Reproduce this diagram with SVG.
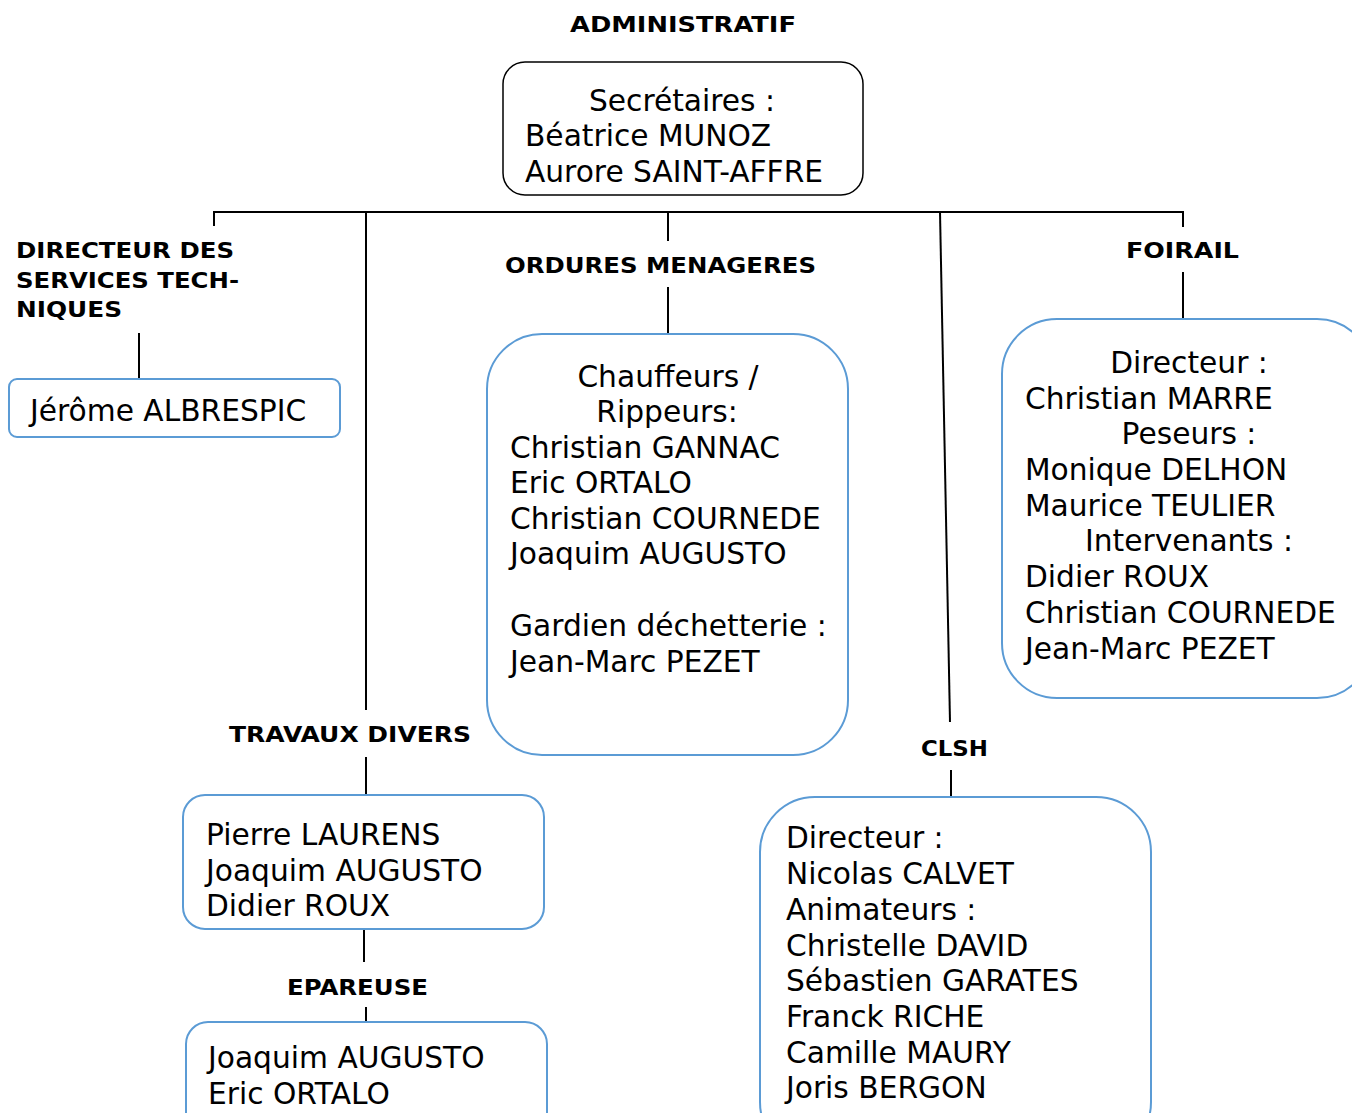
<svg xmlns="http://www.w3.org/2000/svg" width="1352" height="1113" viewBox="0 0 1352 1113">
<style>
.t{font-family:"DejaVu Sans",Verdana,sans-serif;font-size:29.7px;fill:#000}
.c{text-anchor:middle}
.h{font-family:"DejaVu Sans",Verdana,sans-serif;font-size:22px;font-weight:bold;fill:#000}
.bx{fill:#fff;stroke:#5B9BD5;stroke-width:2}
.bk{fill:#fff;stroke:#000;stroke-width:1.5}
.ln{stroke:#000;stroke-width:2;fill:none}
</style>
<rect width="1352" height="1113" fill="#fff"/>
<g id="connectors">
<path class="ln" d="M214 226V212H1183V227"/>
<path class="ln" d="M366 212V710"/>
<path class="ln" d="M668 212V241"/>
<path class="ln" d="M940 212L950 722"/>
<path class="ln" d="M139 333V378"/>
<path class="ln" d="M668 287V333"/>
<path class="ln" d="M1183 272V318"/>
<path class="ln" d="M366 757V795"/>
<path class="ln" d="M364 929V962"/>
<path class="ln" d="M366 1007V1022"/>
<path class="ln" d="M951 770V810"/>
</g>
<g id="label-admin"><text class="h" x="570" y="32" textLength="226" lengthAdjust="spacingAndGlyphs">ADMINISTRATIF</text></g>
<g id="node-admin">
<rect class="bk" x="503" y="62" width="360" height="133" rx="22"/>
<text class="t c" x="682" y="111">Secrétaires :</text>
<text class="t" x="525" y="146">Béatrice MUNOZ</text>
<text class="t" x="525" y="182">Aurore SAINT-AFFRE</text>
</g>
<g id="label-dst">
<text class="h" x="16" y="258" textLength="218" lengthAdjust="spacingAndGlyphs">DIRECTEUR DES</text>
<text class="h" x="16" y="288" textLength="223" lengthAdjust="spacingAndGlyphs">SERVICES TECH-</text>
<text class="h" x="16" y="317" textLength="106" lengthAdjust="spacingAndGlyphs">NIQUES</text>
</g>
<g id="node-dst">
<rect class="bx" x="9" y="379" width="331" height="58" rx="8"/>
<text class="t" x="30" y="421">Jérôme ALBRESPIC</text>
</g>
<g id="label-om"><text class="h" x="505" y="273" textLength="311" lengthAdjust="spacingAndGlyphs">ORDURES MENAGERES</text></g>
<g id="node-om">
<rect class="bx" x="487" y="334" width="361" height="421" rx="55"/>
<text class="t c" x="668" y="387">Chauffeurs /</text>
<text class="t c" x="667" y="422">Rippeurs:</text>
<text class="t" x="510" y="458">Christian GANNAC</text>
<text class="t" x="510" y="493">Eric ORTALO</text>
<text class="t" x="510" y="529">Christian COURNEDE</text>
<text class="t" x="510" y="564">Joaquim AUGUSTO</text>
<text class="t" x="510" y="636">Gardien déchetterie :</text>
<text class="t" x="510" y="672">Jean-Marc PEZET</text>
</g>
<g id="label-foirail"><text class="h" x="1126" y="258" textLength="113" lengthAdjust="spacingAndGlyphs">FOIRAIL</text></g>
<g id="node-foirail">
<rect class="bx" x="1002" y="319" width="370" height="379" rx="55"/>
<text class="t c" x="1189" y="373">Directeur :</text>
<text class="t" x="1025" y="409">Christian MARRE</text>
<text class="t c" x="1189" y="444">Peseurs :</text>
<text class="t" x="1025" y="480">Monique DELHON</text>
<text class="t" x="1025" y="516">Maurice TEULIER</text>
<text class="t c" x="1189" y="551">Intervenants :</text>
<text class="t" x="1025" y="587">Didier ROUX</text>
<text class="t" x="1025" y="623">Christian COURNEDE</text>
<text class="t" x="1025" y="659">Jean-Marc PEZET</text>
</g>
<g id="label-travaux"><text class="h" x="229" y="742" textLength="242" lengthAdjust="spacingAndGlyphs">TRAVAUX DIVERS</text></g>
<g id="node-travaux">
<rect class="bx" x="183" y="795" width="361" height="134" rx="22"/>
<text class="t" x="206" y="845">Pierre LAURENS</text>
<text class="t" x="206" y="881">Joaquim AUGUSTO</text>
<text class="t" x="206" y="916">Didier ROUX</text>
</g>
<g id="label-epareuse"><text class="h" x="287" y="995" textLength="141" lengthAdjust="spacingAndGlyphs">EPAREUSE</text></g>
<g id="node-epareuse">
<rect class="bx" x="186" y="1022" width="361" height="120" rx="22"/>
<text class="t" x="208" y="1068">Joaquim AUGUSTO</text>
<text class="t" x="208" y="1104">Eric ORTALO</text>
</g>
<g id="label-clsh"><text class="h" x="921" y="756" textLength="67" lengthAdjust="spacingAndGlyphs">CLSH</text></g>
<g id="node-clsh">
<rect class="bx" x="760" y="797" width="391" height="360" rx="55"/>
<text class="t" x="786" y="848">Directeur :</text>
<text class="t" x="786" y="884">Nicolas CALVET</text>
<text class="t" x="786" y="920">Animateurs :</text>
<text class="t" x="786" y="956">Christelle DAVID</text>
<text class="t" x="786" y="991">Sébastien GARATES</text>
<text class="t" x="786" y="1027">Franck RICHE</text>
<text class="t" x="786" y="1063">Camille MAURY</text>
<text class="t" x="786" y="1098">Joris BERGON</text>
</g>
</svg>
